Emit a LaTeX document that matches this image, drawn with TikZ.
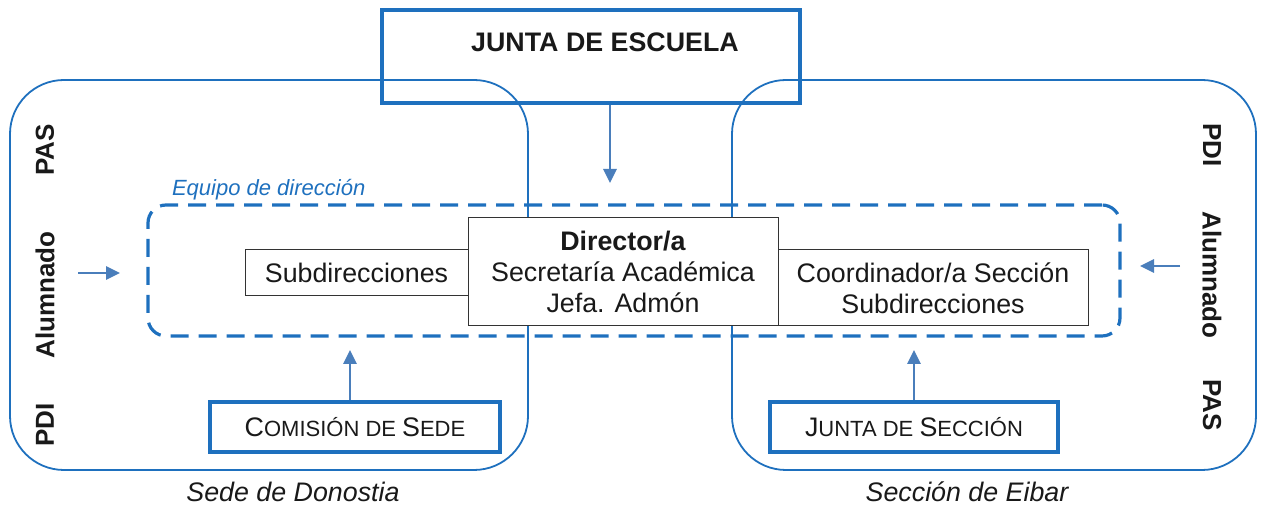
\documentclass[tikz,border=0pt]{standalone}
\usepackage{fontspec}
\setmainfont{Liberation Sans}
\usetikzlibrary{arrows.meta}
\definecolor{bblue}{RGB}{30,112,190}
\definecolor{ablue}{RGB}{74,126,187}
\definecolor{txt}{RGB}{25,25,25}
\newcommand\fsc[2]{#1{\fontsize{11}{12}\selectfont #2}}
\tikzset{
  base/.style={font=\fontsize{13.4}{15.5}\selectfont, text=txt},
  plainbox/.style={base, draw=black!80, line width=0.5pt, fill=white, inner sep=0pt, align=center},
  bluebox/.style={base, draw=bblue, line width=1.8pt, inner sep=0pt, align=center},
  sedebox/.style={draw=bblue, line width=0.9pt, rounded corners=27pt},
  arr/.style={draw=ablue, line width=1.4pt, -{Triangle[length=7pt,width=6.5pt]}},
  side/.style={font=\bfseries\fontsize{13}{15}\selectfont, text=txt},
  captext/.style={font=\itshape\fontsize{13.4}{15.5}\selectfont, text=txt},
}
\begin{document}
\begin{tikzpicture}[x=0.5pt,y=-0.5pt]
\useasboundingbox (0,0) rectangle (1266,506);
% sede frames
\draw[sedebox] (10,80) rectangle (528,470);
\draw[sedebox] (732,80) rectangle (1256,470);
% junta de escuela
\node[bluebox, line width=2.3pt, minimum width=209pt, minimum height=46.5pt] (junta) at (591,56.5) {};
\node[base, font=\bfseries\fontsize{13.4}{15.5}\selectfont] (jtext) at (605,42) {JUNTA DE ESCUELA};
% dashed team box
\node[draw=bblue, line width=1.6pt, dash pattern=on 9pt off 5pt, rounded corners=9pt,
      minimum width=486pt, minimum height=65.5pt, inner sep=0pt] (equipo) at (634,270.5) {};
\node[font=\itshape\fontsize{11}{13}\selectfont, text=bblue, anchor=base west] (eqlabel) at (165,196) {Equipo de direcci\'on};
% inner boxes
\node[plainbox, minimum width=111.5pt, minimum height=23pt] (subdir) at (356.5,273) {Subdirecciones};
\node[plainbox, minimum width=155pt, minimum height=38pt] (coord) at (933,288) {Coordinador/a Secci\'on\\Subdirecciones};
\node[plainbox, minimum width=155pt, minimum height=54pt] (director) at (623,272)
  {\textbf{Director/a}\\Secretar\'ia Acad\'emica\\Jefa. Adm\'on};
% bottom boxes
\node[bluebox, minimum width=145pt, minimum height=25pt] (comision) at (355,427) {\fsc{C}{OMISI\'ON DE }\fsc{S}{EDE}};
\node[bluebox, minimum width=144pt, minimum height=25pt] (jseccion) at (914,427) {\fsc{J}{UNTA DE }\fsc{S}{ECCI\'ON}};
% captions
\node[captext] (donostia) at (293,492) {Sede de Donostia};
\node[captext] (eibar) at (967,492) {Secci\'on de Eibar};
% side labels
\node[side, rotate=90] (lpas) at (45,150) {PAS};
\node[side, rotate=90] (lalum) at (45,295) {Alumnado};
\node[side, rotate=90] (lpdi) at (45,425) {PDI};
\node[side, rotate=-90] (rpdi) at (1212,145) {PDI};
\node[side, rotate=-90] (ralum) at (1212,275) {Alumnado};
\node[side, rotate=-90] (rpas) at (1212,405) {PAS};
% arrows
\coordinate (jend) at (610,183);
\coordinate (lstart) at (78,273);
\coordinate (lend) at (120,273);
\coordinate (rstart) at (1180,266);
\coordinate (rend) at (1140,266);
\coordinate (cend) at (350,350);
\coordinate (send) at (914,350);
\draw[arr] (junta.south -| jend) -- (jend);
\draw[arr] (lstart) -- (lend);
\draw[arr] (rstart) -- (rend);
\draw[arr] (comision.north -| cend) -- (cend);
\draw[arr] (jseccion.north) -- (send);
\end{tikzpicture}
\end{document}
